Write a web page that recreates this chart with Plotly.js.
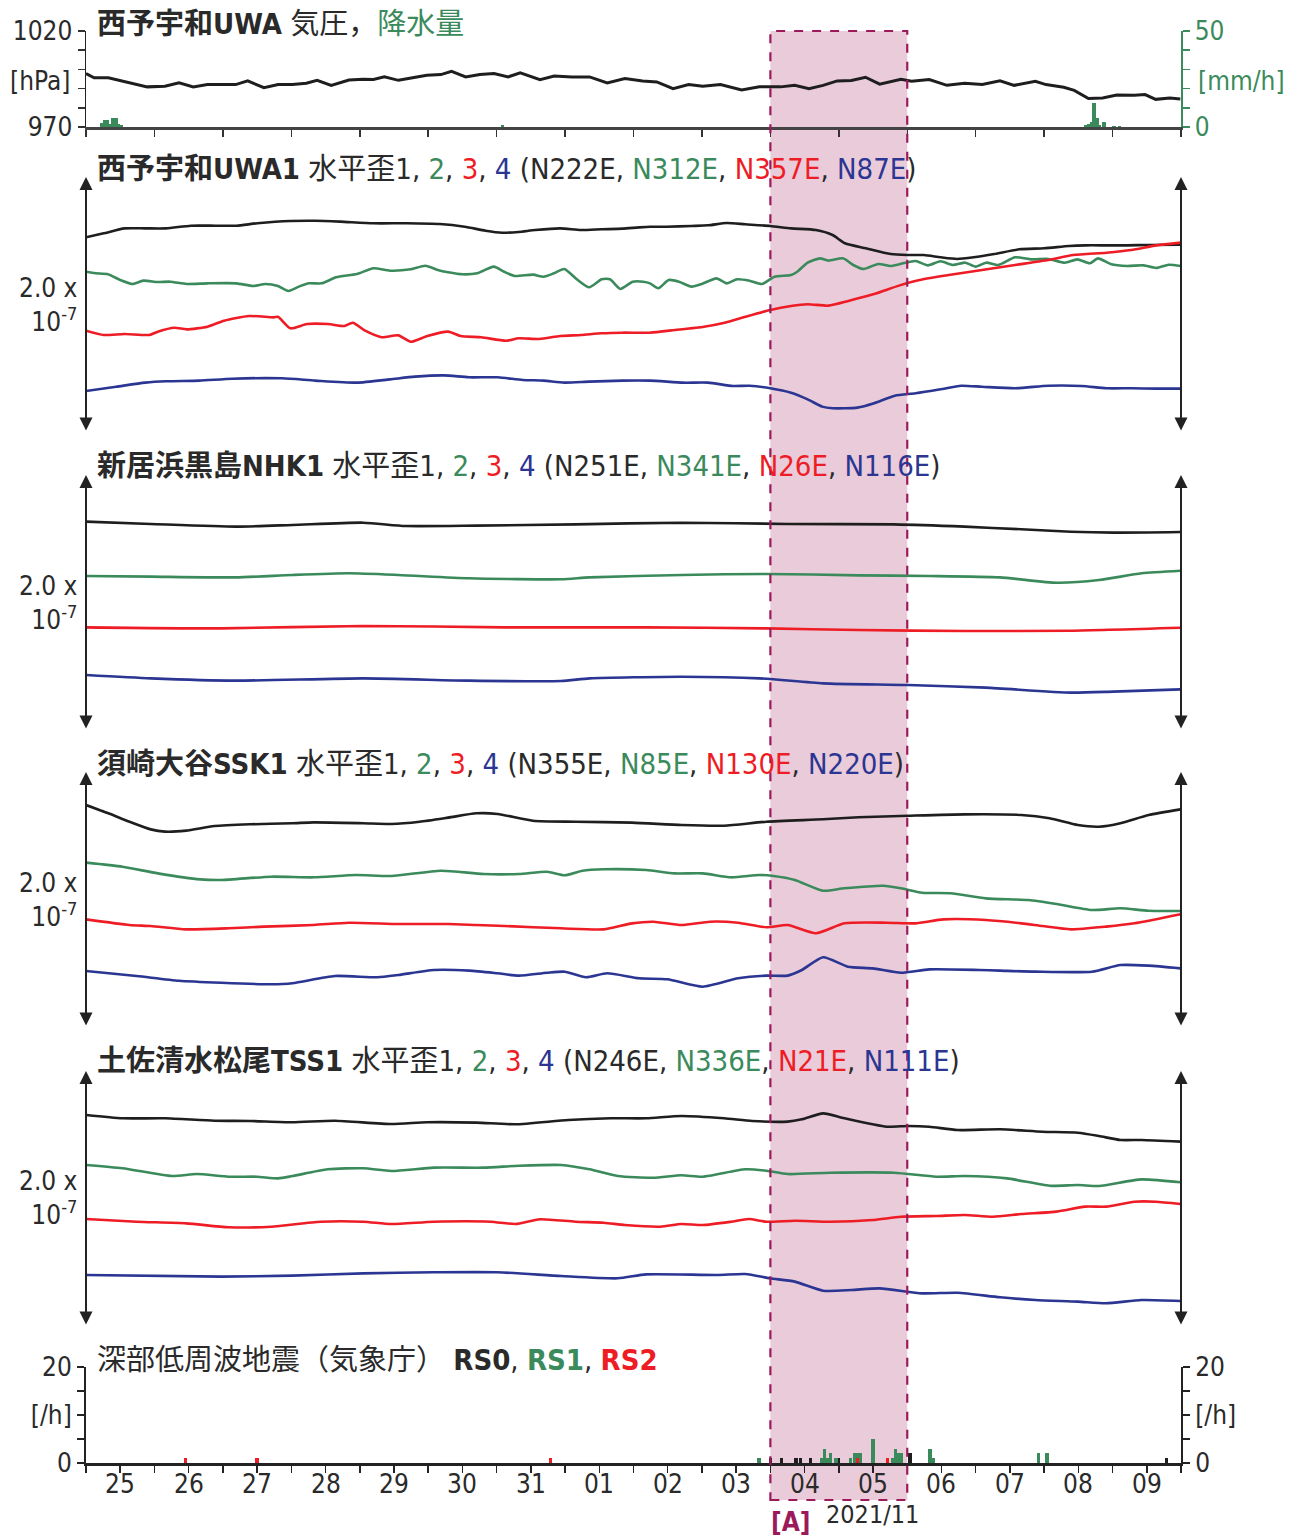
<!DOCTYPE html>
<html>
<head>
<meta charset="utf-8">
<script src="https://cdn.plot.ly/plotly-3.0.1.min.js"></script>
<style>html,body{margin:0;padding:0;background:#fff;}#chart{width:1301px;height:1537px;}</style>
</head>
<body>
<div id="chart"></div>
<script>
// ---------- data (x = days since 2021/10/25 00:00) ----------
const dayLabels = ['25','26','27','28','29','30','31','01','02','03','04','05','06','07','08','09'];

const pressDay = [0,0.119,0.326,0.481,0.688,0.895,1.153,1.36,1.567,1.774,1.98,2.187,2.363,2.6,2.808,3.015,3.22,3.377,3.583,3.842,4.049,4.2,4.359,4.566,4.772,4.98,5.186,5.341,5.548,5.755,5.962,6.169,6.345,6.634,6.841,7.1,7.358,7.616,7.874,8.133,8.34,8.578,8.805,9.012,9.271,9.58,9.839,10.149,10.356,10.564,10.77,10.977,11.184,11.39,11.597,11.908,12.063,12.322,12.58,12.838,13.096,13.355,13.562,13.872,14.027,14.286,14.44,14.648,14.854,15.061,15.32,15.475,15.63,15.837,15.99];
const pressVal = [997.8,995.6,995.6,994.3,992.6,990.9,991.2,993.0,990.9,992.1,992.1,992.1,994.0,990.5,992.1,992.1,992.8,994.3,991.6,994.5,994.9,994.7,996.1,994.3,995.7,997.0,997.3,999.0,996.1,997.3,997.8,996.1,998.2,994.7,996.6,996.1,996.1,993.0,995.2,994.0,993.5,990.0,992.1,991.2,992.1,989.3,990.9,990.9,991.7,990.0,991.7,994.0,994.2,995.9,992.3,994.9,993.8,994.7,991.7,992.8,992.1,994.1,991.7,993.8,992.1,990.7,989.1,984.8,985.1,986.7,986.5,986.9,984.4,985.1,984.6];

const precipDay = [0.229,0.271,0.313,0.354,0.396,0.438,0.479,0.521,6.083,14.604,14.646,14.688,14.729,14.771,14.813,14.875,15.021,15.104];
const precipVal = [2.0,3.5,3.5,1.4,4.9,4.9,1.4,1.0,1.0,1.0,1.5,2.5,12.7,4.5,1.0,2.5,0.5,0.5];

// strain, units of 1e-7 (arbitrary offset per channel)
const uwa1Day = [0,0.259,0.562,0.865,1.169,1.533,1.896,2.199,2.503,2.988,3.352,3.715,4.2,4.685,5.17,5.533,5.837,6.08,6.322,6.565,6.929,7.231,7.535,7.838,8.08,8.241,8.483,8.847,9.09,9.363,9.635,9.999,10.302,10.666,10.909,11.09,11.394,11.758,12.0,12.243,12.486,12.728,12.971,13.273,13.637,14.0,14.364,14.607,14.91,15.213,15.516,16.0];
const uwa1Val = [1.527,1.558,1.597,1.597,1.597,1.618,1.618,1.618,1.637,1.655,1.657,1.650,1.637,1.637,1.631,1.610,1.579,1.563,1.569,1.584,1.597,1.584,1.590,1.595,1.605,1.610,1.610,1.616,1.621,1.639,1.629,1.616,1.597,1.584,1.545,1.480,1.441,1.396,1.388,1.388,1.370,1.357,1.370,1.396,1.433,1.441,1.459,1.464,1.464,1.464,1.467,1.469];
const uwa2Day = [0,0.138,0.32,0.502,0.684,0.836,1.048,1.229,1.472,1.775,2.199,2.441,2.624,2.805,2.957,3.109,3.26,3.442,3.654,3.957,4.2,4.442,4.746,4.958,5.14,5.291,5.504,5.716,5.958,6.109,6.261,6.534,6.686,6.837,6.989,7.171,7.352,7.535,7.656,7.807,7.989,8.141,8.241,8.362,8.514,8.665,8.847,8.999,9.211,9.363,9.514,9.696,9.877,10.06,10.302,10.393,10.545,10.726,10.847,11.059,11.211,11.363,11.575,11.758,11.939,12.122,12.303,12.486,12.667,12.849,13.0,13.152,13.333,13.576,13.818,14.061,14.303,14.486,14.667,14.788,14.971,15.213,15.456,15.637,15.819,16.0];
const uwa2Val = [1.257,1.245,1.237,1.192,1.161,1.187,1.176,1.179,1.161,1.166,1.166,1.145,1.161,1.145,1.106,1.140,1.166,1.166,1.213,1.239,1.284,1.265,1.276,1.304,1.271,1.253,1.237,1.245,1.297,1.257,1.224,1.234,1.218,1.245,1.278,1.198,1.135,1.198,1.198,1.122,1.179,1.179,1.166,1.127,1.192,1.179,1.140,1.161,1.205,1.166,1.198,1.187,1.161,1.218,1.231,1.257,1.328,1.362,1.344,1.362,1.310,1.278,1.318,1.302,1.323,1.341,1.307,1.339,1.310,1.328,1.297,1.328,1.310,1.370,1.354,1.357,1.328,1.354,1.323,1.362,1.318,1.302,1.307,1.286,1.312,1.302];
const uwa3Day = [0,0.259,0.562,0.926,1.048,1.29,1.472,1.775,2.018,2.381,2.745,2.805,2.988,3.23,3.533,3.776,3.897,4.079,4.321,4.564,4.746,4.988,5.291,5.473,5.776,6.14,6.322,6.625,6.929,7.231,7.535,7.838,8.241,8.605,9.029,9.332,9.635,9.999,10.302,10.545,10.847,11.151,11.515,11.879,12.182,12.607,13.092,13.576,14.061,14.424,14.91,15.273,15.637,16.0];
const uwa3Val = [0.795,0.761,0.769,0.761,0.787,0.818,0.805,0.826,0.873,0.910,0.899,0.904,0.813,0.847,0.847,0.831,0.857,0.795,0.743,0.758,0.708,0.753,0.787,0.753,0.743,0.716,0.735,0.729,0.753,0.761,0.774,0.779,0.779,0.800,0.826,0.857,0.904,0.957,0.988,1.002,0.991,1.030,1.082,1.148,1.192,1.231,1.271,1.310,1.349,1.388,1.406,1.427,1.464,1.485];
const uwa4Day = [0,0.441,0.865,1.169,1.654,2.139,2.866,3.352,3.957,4.442,4.806,5.231,5.595,6.018,6.382,6.686,6.989,7.352,7.838,8.241,8.726,9.09,9.454,9.696,9.999,10.302,10.545,10.757,10.909,11.273,11.515,11.818,12.122,12.486,12.788,13.092,13.576,14.061,14.546,14.91,15.273,15.637,16.0];
const uwa4Val = [0.322,0.355,0.387,0.398,0.403,0.418,0.421,0.403,0.387,0.413,0.434,0.444,0.429,0.429,0.408,0.403,0.387,0.395,0.403,0.403,0.387,0.387,0.361,0.363,0.343,0.308,0.256,0.199,0.186,0.191,0.225,0.285,0.304,0.335,0.363,0.355,0.343,0.363,0.361,0.343,0.343,0.340,0.340];

const nhk1Day = [0,0.946,2.187,3.015,4.049,4.669,5.703,7.151,8.702,10.253,11.804,12.838,13.666,14.39,15.01,15.993];
const nhk1Val = [1.634,1.616,1.595,1.608,1.626,1.600,1.603,1.613,1.626,1.616,1.613,1.595,1.574,1.555,1.548,1.553];
const nhk2Day = [0,0.946,2.187,3.015,3.842,4.566,5.6,6.944,7.358,8.702,9.943,11.287,12.322,13.355,14.183,14.803,15.424,15.993];
const nhk2Val = [1.208,1.203,1.197,1.216,1.229,1.216,1.190,1.182,1.197,1.216,1.224,1.213,1.208,1.197,1.155,1.176,1.229,1.249];
const nhk3Day = [0,1.98,4.049,6.117,8.185,9.943,11.287,12.838,14.39,15.993];
const nhk3Val = [0.805,0.797,0.816,0.805,0.805,0.797,0.784,0.776,0.779,0.802];
const nhk4Day = [0,0.946,2.187,4.049,5.6,6.944,7.358,8.702,9.84,10.77,12.01,13.149,14.39,15.01,15.993];
const nhk4Val = [0.431,0.405,0.387,0.405,0.387,0.384,0.405,0.418,0.405,0.366,0.353,0.332,0.293,0.301,0.319];

const ssk1Day = [0,0.326,0.636,0.946,1.153,1.463,1.877,2.394,3.015,3.325,4.049,4.462,4.876,5.29,5.703,6.014,6.53,7.151,7.978,8.702,9.323,9.943,10.77,11.287,12.011,12.838,13.666,14.079,14.493,14.803,15.114,15.527,15.993];
const ssk1Val = [1.741,1.676,1.610,1.550,1.532,1.540,1.576,1.590,1.598,1.605,1.598,1.592,1.610,1.642,1.676,1.671,1.618,1.610,1.603,1.584,1.579,1.610,1.629,1.645,1.657,1.668,1.663,1.637,1.584,1.571,1.598,1.663,1.707];
const ssk2Day = [0,0.533,1.05,1.67,1.98,2.704,3.325,3.945,4.462,5.186,5.807,6.324,6.737,6.996,7.254,7.565,8.185,8.599,9.012,9.426,9.84,10.046,10.357,10.77,11.081,11.65,11.908,12.218,12.632,13.149,13.769,14.183,14.7,15.114,15.527,15.993];
const ssk2Val = [1.289,1.257,1.205,1.158,1.153,1.179,1.174,1.192,1.184,1.226,1.2,1.2,1.218,1.190,1.226,1.237,1.231,1.205,1.205,1.174,1.192,1.184,1.153,1.069,1.088,1.108,1.088,1.053,1.049,1.009,0.996,0.965,0.918,0.931,0.912,0.910];
const ssk3Day = [0,0.636,0.946,1.463,2.084,2.601,3.325,3.842,4.566,5.29,5.703,6.117,6.944,7.565,7.978,8.288,8.702,9.116,9.529,9.943,10.253,10.667,11.081,11.701,12.115,12.529,13.149,13.666,13.976,14.39,14.906,15.32,15.993];
const ssk3Val = [0.844,0.8,0.792,0.766,0.774,0.787,0.8,0.818,0.808,0.808,0.8,0.792,0.774,0.766,0.813,0.826,0.8,0.826,0.818,0.782,0.8,0.735,0.813,0.818,0.813,0.844,0.839,0.813,0.792,0.766,0.787,0.813,0.884];
const ssk4Day = [0,0.74,1.36,1.98,2.704,3.015,3.635,4.256,4.566,5.083,5.6,6.014,6.324,6.737,6.996,7.306,7.616,8.082,8.495,9.012,9.529,9.943,10.253,10.46,10.77,11.132,11.494,11.908,12.322,13.046,13.355,13.873,14.7,15.114,15.527,15.993];
const ssk4Val = [0.439,0.4,0.363,0.347,0.335,0.343,0.4,0.39,0.408,0.447,0.442,0.421,0.403,0.426,0.434,0.39,0.421,0.382,0.374,0.316,0.382,0.403,0.403,0.447,0.547,0.473,0.46,0.426,0.452,0.447,0.442,0.434,0.434,0.486,0.481,0.46];

const tss1Day = [0,0.533,1.153,1.877,2.394,3.015,3.635,4.462,4.98,5.703,6.272,7.048,7.668,8.185,8.702,9.323,9.736,10.253,10.46,10.77,11.081,11.701,12.011,12.322,12.735,13.355,13.976,14.493,14.803,15.114,15.424,15.993];
const tss1Val = [1.655,1.629,1.629,1.610,1.608,1.598,1.610,1.584,1.598,1.595,1.582,1.616,1.629,1.629,1.647,1.629,1.608,1.603,1.621,1.668,1.629,1.563,1.569,1.563,1.537,1.543,1.524,1.516,1.490,1.459,1.459,1.446];
const tss2Day = [0,0.533,1.257,1.618,2.084,2.497,2.808,3.015,3.532,4.049,4.462,5.083,5.807,6.324,6.944,7.358,7.771,8.288,8.702,9.012,9.633,9.943,10.253,10.874,11.804,12.425,12.838,13.459,14.079,14.493,14.803,15.424,15.993];
const tss2Val = [1.263,1.237,1.176,1.192,1.171,1.171,1.158,1.176,1.229,1.237,1.216,1.242,1.242,1.257,1.263,1.229,1.176,1.163,1.182,1.171,1.229,1.218,1.192,1.202,1.202,1.171,1.176,1.158,1.100,1.106,1.098,1.150,1.127];
const tss3Day = [0,0.74,1.463,2.084,2.704,3.428,4.049,4.462,5.083,5.91,6.272,6.634,7.151,7.565,7.875,8.392,8.702,9.012,9.426,9.685,9.943,10.357,10.874,11.494,11.908,12.425,12.838,13.252,13.666,14.183,14.597,14.906,15.32,15.63,15.993];
const tss3Val = [0.839,0.818,0.805,0.774,0.779,0.818,0.818,0.8,0.818,0.818,0.8,0.837,0.818,0.81,0.792,0.779,0.8,0.792,0.818,0.839,0.818,0.826,0.818,0.831,0.857,0.863,0.871,0.857,0.878,0.897,0.936,0.936,0.975,0.975,0.957];
const tss4Day = [0,1.98,3.015,4.049,5.083,6.014,6.944,7.771,8.185,9.219,9.633,9.995,10.357,10.77,11.184,11.597,12.218,12.735,13.355,13.873,14.493,14.906,15.424,15.993];
const tss4Val = [0.4,0.387,0.395,0.413,0.421,0.421,0.392,0.374,0.405,0.4,0.408,0.374,0.348,0.277,0.282,0.295,0.256,0.261,0.225,0.204,0.191,0.178,0.204,0.196];

// deep low-frequency tremor counts per hour
const rs0Day = [10.0,10.167,10.375,10.438,10.583,11.0,12.042,15.792];
const rs0Cnt = [1,1,1,1,1,1,2,1];
const rs1Day = [9.833,10.75,10.792,10.833,10.875,10.958,11.167,11.229,11.271,11.313,11.5,11.792,11.833,11.875,11.917,12.333,12.375,13.917,14.042];
const rs1Cnt = [1,1,3,1,2,1,1,2,2,2,5,1,3,2,2,3,1,2,2];
const rs2Day = [1.458,2.5,6.792,11.271,11.708];
const rs2Cnt = [1,1,1,1,1];

const eventStart = 10.0, eventEnd = 12.0;

// ---------- styling ----------
const H = 1537;
const K = '#1e1e1e', G = '#3b8a5c', R = '#ee1c25', B = '#2b3592', M = '#9c1a5b';
const FONT = '"Liberation Sans Narrow", "DejaVu Sans Condensed", "Noto Sans CJK JP", sans-serif';
const dom = (top, bot) => [1 - bot / H, 1 - top / H];
const py = (p) => 1 - p / H;
const px = (p) => (p - 86) / 1095;

function line(x, y, c, ax) {
  return {type: 'scatter', mode: 'lines', x: x, y: y, xaxis: 'x' + ax, yaxis: 'y' + ax,
          line: {color: c, width: 2.6, shape: 'spline', smoothing: 0.6}, hoverinfo: 'skip', showlegend: false};
}
function bars(x, y, c, xa, ya) {
  return {type: 'bar', x: x, y: y, xaxis: xa, yaxis: ya, width: 0.048, marker: {color: c, line: {width: 0}},
          hoverinfo: 'skip', showlegend: false};
}

const traces = [
  {type: 'scatter', mode: 'lines', x: pressDay, y: pressVal, xaxis: 'x', yaxis: 'y',
   line: {color: K, width: 3}, showlegend: false, hoverinfo: 'skip'},
  bars(precipDay, precipVal, G, 'x', 'y7'),
  line(uwa1Day, uwa1Val, K, 2), line(uwa2Day, uwa2Val, G, 2), line(uwa3Day, uwa3Val, R, 2), line(uwa4Day, uwa4Val, B, 2),
  line(nhk1Day, nhk1Val, K, 3), line(nhk2Day, nhk2Val, G, 3), line(nhk3Day, nhk3Val, R, 3), line(nhk4Day, nhk4Val, B, 3),
  line(ssk1Day, ssk1Val, K, 4), line(ssk2Day, ssk2Val, G, 4), line(ssk3Day, ssk3Val, R, 4), line(ssk4Day, ssk4Val, B, 4),
  line(tss1Day, tss1Val, K, 5), line(tss2Day, tss2Val, G, 5), line(tss3Day, tss3Val, R, 5), line(tss4Day, tss4Val, B, 5),
  bars(rs0Day, rs0Cnt, K, 'x6', 'y6'),
  bars(rs1Day, rs1Cnt, G, 'x6', 'y6'),
  bars(rs2Day, rs2Cnt, R, 'x6', 'y6'),
  {type: 'scatter', mode: 'lines', x: [], y: [], xaxis: 'x6', yaxis: 'y8', showlegend: false, hoverinfo: 'skip'}
];

const halfTicks = [], dayTicks = [];
for (let i = 0; i <= 16; i++) dayTicks.push(i);
for (let i = 0; i <= 32; i++) halfTicks.push(i * 0.5);

const tickFont = {family: FONT, size: 26, color: '#2a2a2a'};
const hiddenX = (a) => ({range: [0, 16], anchor: a, visible: false, fixedrange: true});
const hiddenY = (d) => ({domain: d, range: [0, 2], visible: false, fixedrange: true});

const layout = {
  width: 1301, height: 1537,
  margin: {l: 86, r: 120, t: 0, b: 0},
  paper_bgcolor: '#ffffff', plot_bgcolor: 'rgba(0,0,0,0)',
  font: {family: FONT, size: 26, color: '#2a2a2a'},
  barmode: 'overlay', bargap: 0,
  showlegend: false,
  xaxis: {range: [0, 16], anchor: 'y', tickvals: dayTicks, showticklabels: false, ticks: 'outside',
          ticklen: 7, tickwidth: 1.5, tickcolor: '#333', showline: true, linecolor: '#444', linewidth: 2.5,
          showgrid: false, zeroline: false, fixedrange: true},
  yaxis: {domain: dom(31, 127), range: [970, 1020], tickvals: [970, 980, 990, 1000, 1010, 1020],
          ticktext: ['970', '', '', '', '', '1020'], ticks: 'outside', ticklen: 7, tickwidth: 1.5,
          tickcolor: '#333', showline: true, linecolor: '#222', linewidth: 1.5, showgrid: false,
          zeroline: false, tickfont: tickFont, fixedrange: true},
  yaxis7: {overlaying: 'y', side: 'right', anchor: 'x', range: [0, 50], tickvals: [0, 10, 20, 30, 40, 50],
           ticktext: ['0', '', '', '', '', '50'], ticks: 'outside', ticklen: 7, tickwidth: 1.5, tickcolor: G,
           showline: true, linecolor: G, linewidth: 1.5, showgrid: false, zeroline: false,
           tickfont: {family: FONT, size: 26, color: G}, fixedrange: true},
  xaxis2: hiddenX('y2'), yaxis2: hiddenY(dom(177, 432)),
  xaxis3: hiddenX('y3'), yaxis3: hiddenY(dom(475, 730)),
  xaxis4: hiddenX('y4'), yaxis4: hiddenY(dom(772, 1027)),
  xaxis5: hiddenX('y5'), yaxis5: hiddenY(dom(1071, 1326)),
  xaxis6: {range: [0, 16], anchor: 'y6', tickvals: halfTicks, showticklabels: false, ticks: 'outside',
           ticklen: 7, tickwidth: 1.5, tickcolor: '#222', showline: true, linecolor: '#222', linewidth: 2.5,
           showgrid: false, zeroline: false, fixedrange: true},
  yaxis6: {domain: dom(1367, 1463), range: [0, 20], tickvals: [0, 5, 10, 15, 20],
           ticktext: ['0', '', '[/h]', '', '20'], ticks: 'outside', ticklen: 7, tickwidth: 1.5, tickcolor: '#222',
           showline: true, linecolor: '#222', linewidth: 2, showgrid: false, zeroline: false,
           tickfont: tickFont, fixedrange: true},
  yaxis8: {overlaying: 'y6', side: 'right', anchor: 'x6', range: [0, 20], tickvals: [0, 5, 10, 15, 20],
           ticktext: ['0', '', '[/h]', '', '20'], ticks: 'outside', ticklen: 7, tickwidth: 1.5, tickcolor: '#222',
           showline: true, linecolor: '#222', linewidth: 2, showgrid: false, zeroline: false,
           tickfont: tickFont, fixedrange: true},
  shapes: [
    {type: 'rect', xref: 'x6', yref: 'paper', x0: eventStart, x1: eventEnd, y0: py(1500), y1: py(31),
     fillcolor: '#e9cbd9', line: {width: 0}, layer: 'below'},
    {type: 'rect', xref: 'x6', yref: 'paper', x0: eventStart, x1: eventEnd, y0: py(1500), y1: py(31),
     fillcolor: 'rgba(0,0,0,0)', line: {color: M, width: 2.2, dash: 'dash'}, layer: 'above'}
  ],
  annotations: []
};

const A = layout.annotations;
const span = (c, t) => '<span style="color:' + c + '">' + t + '</span>';
function title(text, ypx) {
  A.push({xref: 'paper', yref: 'paper', x: px(95), y: py(ypx), xanchor: 'left', yanchor: 'middle',
          text: text, showarrow: false, font: {family: FONT, size: 29, color: '#2a2a2a'}});
}
title('<b>西予宇和UWA</b> 気圧，' + span(G, '降水量'), 24);
title('<b>西予宇和UWA1</b> 水平歪1, ' + span(G, '2') + ', ' + span(R, '3') + ', ' + span(B, '4') +
      ' (N222E, ' + span(G, 'N312E') + ', ' + span(R, 'N357E') + ', ' + span(B, 'N87E') + ')', 169);
title('<b>新居浜黒島NHK1</b> 水平歪1, ' + span(G, '2') + ', ' + span(R, '3') + ', ' + span(B, '4') +
      ' (N251E, ' + span(G, 'N341E') + ', ' + span(R, 'N26E') + ', ' + span(B, 'N116E') + ')', 466);
title('<b>須崎大谷SSK1</b> 水平歪1, ' + span(G, '2') + ', ' + span(R, '3') + ', ' + span(B, '4') +
      ' (N355E, ' + span(G, 'N85E') + ', ' + span(R, 'N130E') + ', ' + span(B, 'N220E') + ')', 764);
title('<b>土佐清水松尾TSS1</b> 水平歪1, ' + span(G, '2') + ', ' + span(R, '3') + ', ' + span(B, '4') +
      ' (N246E, ' + span(G, 'N336E') + ', ' + span(R, 'N21E') + ', ' + span(B, 'N111E') + ')', 1061);
title('深部低周波地震（気象庁） <b>RS0</b>, ' + span(G, '<b>RS1</b>') + ', ' + span(R, '<b>RS2</b>'), 1360);

function textAt(t, xp, yp, color, anchor, size) {
  A.push({xref: 'paper', yref: 'paper', x: px(xp), y: py(yp), xanchor: anchor || 'center', yanchor: 'middle',
          text: t, showarrow: false, align: 'right', borderpad: 0,
          font: {family: FONT, size: size || 26, color: color || '#2a2a2a'}});
}
textAt('[hPa]', 40, 81);
textAt('[mm/h]', 1241, 81, G);
[305, 603, 900, 1198].forEach(y => textAt('2.0 x<br>10<sup>-7</sup>', 79, y, '#2a2a2a', 'right'));
textAt('<b>[A]</b>', 790, 1522, M);
textAt('2021/11', 872, 1514, '#2a2a2a', 'center', 25);

// day labels at noon under the bottom axis
dayLabels.forEach((lab, i) => {
  A.push({xref: 'x6', yref: 'paper', x: i + 0.5, y: py(1484), xanchor: 'center', yanchor: 'middle',
          text: lab, showarrow: false, borderpad: 0, font: tickFont});
});

// double-headed scale arrows on each strain panel
[2, 3, 4, 5].forEach(n => {
  [0, 16].forEach(xv => {
    A.push({xref: 'x' + n, yref: 'y' + n, axref: 'x' + n, ayref: 'y' + n, x: xv, y: 2, ax: xv, ay: 0,
            text: '', showarrow: true, arrowhead: 2, startarrowhead: 2, arrowside: 'end+start',
            arrowsize: 1.3, startarrowsize: 1.3, arrowwidth: 2, arrowcolor: '#222', standoff: 0, startstandoff: 0});
  });
});

Plotly.newPlot('chart', traces, layout, {displayModeBar: false, staticPlot: true});
</script>
</body>
</html>
